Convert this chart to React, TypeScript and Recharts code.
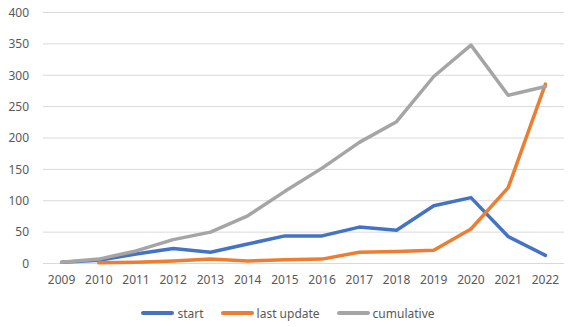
import React from "react";
import { LineChart, Line, XAxis, YAxis, CartesianGrid, Legend } from "recharts";

const years = ["2009", "2010", "2011", "2012", "2013", "2014", "2015", "2016", "2017", "2018", "2019", "2020", "2021", "2022"];
const start = [2, 5, 15, 24, 18, 31, 44, 44, 58, 53, 92, 105, 43, 13];
const lastUpdate = [null, 1, 2, 4, 7, 4, 6, 7, 18, 19, 21, 55, 121, 286];
const cumulative = [2, 7, 20, 38, 50, 76, 115, 152, 193, 226, 298, 348, 268, 282];
const yTicks = [0, 50, 100, 150, 200, 250, 300, 350, 400];

const series = [
  { key: "start", name: "start", color: "#4472C4" },
  { key: "lastUpdate", name: "last update", color: "#ED7D31" },
  { key: "cumulative", name: "cumulative", color: "#A5A5A5" },
];

const data = years.map((year, i) => ({
  year,
  start: start[i],
  lastUpdate: lastUpdate[i],
  cumulative: cumulative[i],
}));

const FONT = "'Noto Sans', 'Liberation Sans', sans-serif";
const TEXT = "#595959";

function LegendContent() {
  return (
    <div
      style={{
        display: "flex",
        justifyContent: "center",
        alignItems: "center",
        fontFamily: FONT,
        fontSize: 12,
        color: TEXT,
        height: 18,
        paddingLeft: 22,
      }}
    >
      {series.map((s) => (
        <div key={s.key} style={{ display: "flex", alignItems: "center", marginRight: 17 }}>
          <span
            style={{
              display: "inline-block",
              width: 33,
              height: 4,
              borderRadius: 2,
              background: s.color,
              marginRight: 3,
            }}
          />
          <span>{s.name}</span>
        </div>
      ))}
    </div>
  );
}

export default function App() {
  return (
    <div style={{ position: "fixed", left: 0, top: 0, width: 571, height: 327, background: "#fff" }}>
      <LineChart width={571} height={327} data={data} margin={{ top: 12.5, right: 7, bottom: 15.5, left: 0 }}>
        <CartesianGrid vertical={false} stroke="#D9D9D9" strokeWidth={1} />
        <XAxis
          dataKey="year"
          axisLine={false}
          tickLine={false}
          tickSize={0}
          tickMargin={12}
          height={30}
          interval={0}
          padding={{ left: 18.6, right: 18.6 }}
          tick={{ fill: TEXT, fontSize: 12, fontFamily: FONT }}
        />
        <YAxis
          domain={[0, 400]}
          ticks={yTicks}
          axisLine={false}
          tickLine={false}
          tickSize={0}
          tickMargin={14}
          width={43}
          interval={0}
          tick={{ fill: TEXT, fontSize: 12, fontFamily: FONT }}
        />
        <Legend
          verticalAlign="bottom"
          content={<LegendContent />}
          wrapperStyle={{ top: 304, left: 0, width: 571, height: 18 }}
        />
        {series.map((s) => (
          <Line
            key={s.key}
            type="linear"
            dataKey={s.key}
            name={s.name}
            stroke={s.color}
            strokeWidth={3.5}
            strokeLinecap="round"
            strokeLinejoin="round"
            dot={false}
            activeDot={false}
            isAnimationActive={false}
          />
        ))}
      </LineChart>
    </div>
  );
}
